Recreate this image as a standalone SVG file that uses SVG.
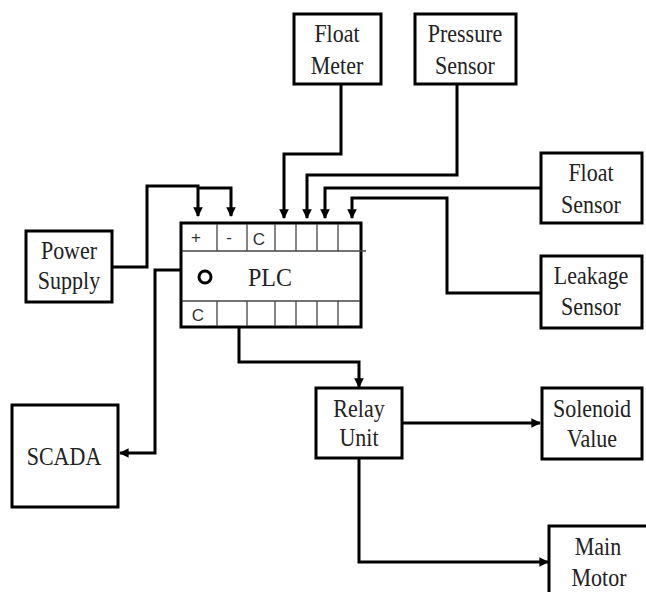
<svg xmlns="http://www.w3.org/2000/svg" width="646" height="592" viewBox="0 0 646 592">
<style>
.box{fill:#fff;stroke:#000;stroke-width:3}
.t{font-family:"Liberation Serif","Times New Roman",serif;font-size:22px;fill:#222;text-anchor:middle}
.c{font-family:"Liberation Sans",Arial,sans-serif;font-size:17px;fill:#333;text-anchor:middle}
.w{fill:none;stroke:#000;stroke-width:3;stroke-linejoin:miter}
.g{fill:none;stroke:#444;stroke-width:1.3}
</style>
<defs>
<marker id="ah" viewBox="0 0 10 10" refX="9" refY="5" markerWidth="3.2" markerHeight="3.2" orient="auto" markerUnits="strokeWidth">
<path d="M0,0 L10,5 L0,10 z" fill="#000"/>
</marker>
</defs>
<rect width="646" height="592" fill="#fff"/>
<g id="connectors">
<path class="w" d="M112,267 H147 V186 H198 V216" marker-end="url(#ah)"/>
<path class="w" d="M198,188 H231 V216" marker-end="url(#ah)"/>
<path class="w" d="M341,84 V154 H284 V218" marker-end="url(#ah)"/>
<path class="w" d="M457,84 V175 H307 V218" marker-end="url(#ah)"/>
<path class="w" d="M541,188 H325 V218" marker-end="url(#ah)"/>
<path class="w" d="M541,293 H447 V198 H352 V218" marker-end="url(#ah)"/>
<path class="w" d="M200,270 H155 V453 H120" marker-end="url(#ah)"/>
<path class="w" d="M239,327 V362 H359 V387" marker-end="url(#ah)"/>
<path class="w" d="M402,423 H540" marker-end="url(#ah)"/>
<path class="w" d="M359,458 V562 H548" marker-end="url(#ah)"/>
</g>
<g id="plc">
<rect class="box" x="181" y="223" width="180" height="104"/>
<line class="g" x1="182" y1="251" x2="366" y2="251"/>
<line class="g" x1="182" y1="301" x2="360" y2="301"/>
<g class="g">
<line x1="217" y1="224" x2="217" y2="251"/>
<line x1="247" y1="224" x2="247" y2="251"/>
<line x1="275" y1="224" x2="275" y2="251"/>
<line x1="296" y1="224" x2="296" y2="251"/>
<line x1="317" y1="224" x2="317" y2="251"/>
<line x1="338" y1="224" x2="338" y2="251"/>
<line x1="217" y1="301" x2="217" y2="326"/>
<line x1="247" y1="301" x2="247" y2="326"/>
<line x1="275" y1="301" x2="275" y2="326"/>
<line x1="296" y1="301" x2="296" y2="326"/>
<line x1="317" y1="301" x2="317" y2="326"/>
<line x1="338" y1="301" x2="338" y2="326"/>
</g>
<text class="c" x="196" y="243">+</text>
<text class="c" x="229" y="243">-</text>
<text class="c" x="259" y="245">C</text>
<text class="c" x="198" y="321">C</text>
<circle cx="205" cy="277" r="6" fill="#fff" stroke="#000" stroke-width="3"/>
<text class="t" x="270" y="286" style="font-size:24px" transform="translate(0,286) scale(1,1.08) translate(0,-286)">PLC</text>
</g>
<g id="power-supply">
<rect class="box" x="26" y="231" width="86" height="71"/>
<text class="t" x="69" y="259" transform="translate(0,259) scale(1,1.12) translate(0,-259)">Power</text>
<text class="t" x="69" y="289" transform="translate(0,289) scale(1,1.12) translate(0,-289)">Supply</text>
</g>
<g id="float-meter">
<rect class="box" x="294" y="14" width="87" height="70"/>
<text class="t" x="337" y="42" transform="translate(0,42) scale(1,1.12) translate(0,-42)">Float</text>
<text class="t" x="337" y="74" transform="translate(0,74) scale(1,1.12) translate(0,-74)">Meter</text>
</g>
<g id="pressure-sensor">
<rect class="box" x="415" y="14" width="101" height="70"/>
<text class="t" x="465" y="42" transform="translate(0,42) scale(1,1.12) translate(0,-42)">Pressure</text>
<text class="t" x="465" y="74" transform="translate(0,74) scale(1,1.12) translate(0,-74)">Sensor</text>
</g>
<g id="float-sensor">
<rect class="box" x="541" y="153" width="101" height="70"/>
<text class="t" x="591" y="181" transform="translate(0,181) scale(1,1.12) translate(0,-181)">Float</text>
<text class="t" x="591" y="213" transform="translate(0,213) scale(1,1.12) translate(0,-213)">Sensor</text>
</g>
<g id="leakage-sensor">
<rect class="box" x="541" y="256" width="101" height="72"/>
<text class="t" x="591" y="284" transform="translate(0,284) scale(1,1.12) translate(0,-284)">Leakage</text>
<text class="t" x="591" y="315" transform="translate(0,315) scale(1,1.12) translate(0,-315)">Sensor</text>
</g>
<g id="scada">
<rect class="box" x="12" y="405" width="106" height="102"/>
<text class="t" x="64" y="465" transform="translate(0,465) scale(1,1.12) translate(0,-465)">SCADA</text>
</g>
<g id="relay-unit">
<rect class="box" x="316" y="388" width="86" height="70"/>
<text class="t" x="359" y="417" transform="translate(0,417) scale(1,1.12) translate(0,-417)">Relay</text>
<text class="t" x="359" y="446" transform="translate(0,446) scale(1,1.12) translate(0,-446)">Unit</text>
</g>
<g id="solenoid-value">
<rect class="box" x="542" y="388" width="100" height="71"/>
<text class="t" x="592" y="417" transform="translate(0,417) scale(1,1.12) translate(0,-417)">Solenoid</text>
<text class="t" x="592" y="447" transform="translate(0,447) scale(1,1.12) translate(0,-447)">Value</text>
</g>
<g id="main-motor">
<rect class="box" x="549" y="526" width="120" height="90"/>
<text class="t" x="598" y="555" transform="translate(0,555) scale(1,1.12) translate(0,-555)">Main</text>
<text class="t" x="599" y="586" transform="translate(0,586) scale(1,1.1) translate(0,-586)">Motor</text>
</g>
</svg>
